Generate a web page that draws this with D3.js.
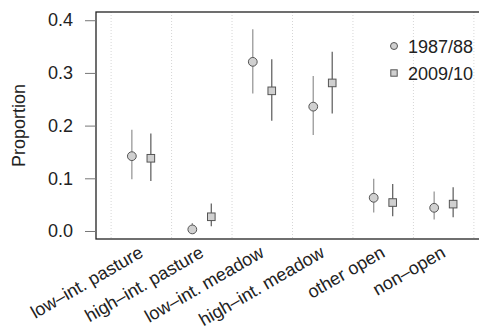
<!DOCTYPE html>
<html>
<head>
<meta charset="utf-8">
<script src="https://cdn.jsdelivr.net/npm/d3@7"></script>
<style>
  body { margin: 0; background: #fff; }
  text { font-family: "Liberation Sans", Arial, sans-serif; fill: #222; }
</style>
</head>
<body>
<svg id="chart" width="479" height="327"></svg>
<script>
// categories and estimates
const categories = ['low–int. pasture', 'high–int. pasture', 'low–int. meadow',
  'high–int. meadow', 'other open', 'non–open'];
const series = ['1987/88', '2009/10'];
const est1987 = [0.142, 0.003, 0.321, 0.236, 0.063, 0.044];
const low1987 = [0.098, 0.000, 0.261, 0.182, 0.035, 0.022];
const high1987 = [0.192, 0.015, 0.383, 0.294, 0.099, 0.075];
const est2009 = [0.138, 0.027, 0.266, 0.281, 0.054, 0.051];
const low2009 = [0.095, 0.009, 0.209, 0.223, 0.028, 0.026];
const high2009 = [0.185, 0.052, 0.326, 0.340, 0.089, 0.083];
const yTicks = [0.0, 0.1, 0.2, 0.3, 0.4];

const svg = d3.select('#chart');
const plotLeft = 96, plotRight = 489, plotTop = 12, plotBottom = 239;

const x = d3.scaleLinear().domain([0.25, 6.75]).range([plotLeft, plotRight]);
const y = d3.scaleLinear().domain([-0.0152, 0.4156]).range([plotBottom, plotTop]);

// dotted separators between groups
svg.append('g').selectAll('line')
  .data(d3.range(0, 7))
  .join('line')
  .attr('x1', d => x(d + 0.5)).attr('x2', d => x(d + 0.5))
  .attr('y1', plotTop).attr('y2', plotBottom)
  .attr('stroke', '#ccc')
  .attr('stroke-width', 0.8)
  .attr('stroke-dasharray', '1,2');

// frame
svg.append('rect')
  .attr('x', plotLeft).attr('y', plotTop)
  .attr('width', plotRight - plotLeft).attr('height', plotBottom - plotTop)
  .attr('fill', 'none').attr('stroke', '#222').attr('stroke-width', 1.3);

// y axis
const yAxis = svg.append('g')
  .attr('transform', 'translate(' + plotLeft + ',0)')
  .call(d3.axisLeft(y).tickValues(yTicks).tickFormat(d3.format('.1f')).tickSize(11).tickPadding(12));
yAxis.select('.domain').remove();
yAxis.selectAll('line').attr('stroke', '#777');
yAxis.selectAll('text').style('font-size', '18px').attr('fill', '#222')
  .style('font-family', '"Liberation Sans", Arial, sans-serif');

svg.append('text')
  .attr('transform', 'translate(25,' + ((plotTop + plotBottom) / 2) + ') rotate(-90)')
  .attr('text-anchor', 'middle')
  .style('font-size', '18px')
  .text('Proportion');

// x labels
svg.append('g').selectAll('text')
  .data(categories)
  .join('text')
  .attr('transform', (d, i) => 'translate(' + (x(i + 1) + 3) + ',' + 256 + ') rotate(-30)')
  .attr('text-anchor', 'end')
  .style('font-size', '18px')
  .text(d => d);

const off = 0.157;
const rows1987 = categories.map((c, i) => ({ i: i + 1, v: est1987[i], lo: low1987[i], hi: high1987[i] }));
const rows2009 = categories.map((c, i) => ({ i: i + 1, v: est2009[i], lo: low2009[i], hi: high2009[i] }));

// error bars
svg.append('g').selectAll('line')
  .data(rows1987).join('line')
  .attr('x1', d => x(d.i - off)).attr('x2', d => x(d.i - off))
  .attr('y1', d => y(d.lo)).attr('y2', d => y(d.hi))
  .attr('stroke', '#999').attr('stroke-width', 1.3);
svg.append('g').selectAll('line')
  .data(rows2009).join('line')
  .attr('x1', d => x(d.i + off)).attr('x2', d => x(d.i + off))
  .attr('y1', d => y(d.lo)).attr('y2', d => y(d.hi))
  .attr('stroke', '#666').attr('stroke-width', 1.3);

// points
svg.append('g').selectAll('circle')
  .data(rows1987).join('circle')
  .attr('cx', d => x(d.i - off)).attr('cy', d => y(d.v))
  .attr('r', 4.4)
  .attr('fill', '#d0d0d0').attr('stroke', '#555').attr('stroke-width', 1);
svg.append('g').selectAll('rect')
  .data(rows2009).join('rect')
  .attr('x', d => x(d.i + off) - 3.8).attr('y', d => y(d.v) - 3.8)
  .attr('width', 7.6).attr('height', 7.6)
  .attr('fill', '#d0d0d0').attr('stroke', '#555').attr('stroke-width', 1);

// legend
const lg = svg.append('g').attr('transform', 'translate(394,46)');
lg.append('circle').attr('cx', 0).attr('cy', 0).attr('r', 3.5)
  .attr('fill', '#d0d0d0').attr('stroke', '#555');
lg.append('rect').attr('x', -3.2).attr('y', 27 - 3.2).attr('width', 6.4).attr('height', 6.4)
  .attr('fill', '#d0d0d0').attr('stroke', '#555');
lg.selectAll('text.lab')
  .data(series).join('text')
  .attr('class', 'lab')
  .attr('x', 14).attr('y', (d, i) => i * 27 + 6.5)
  .style('font-size', '18px')
  .text(d => d);
</script>
</body>
</html>
